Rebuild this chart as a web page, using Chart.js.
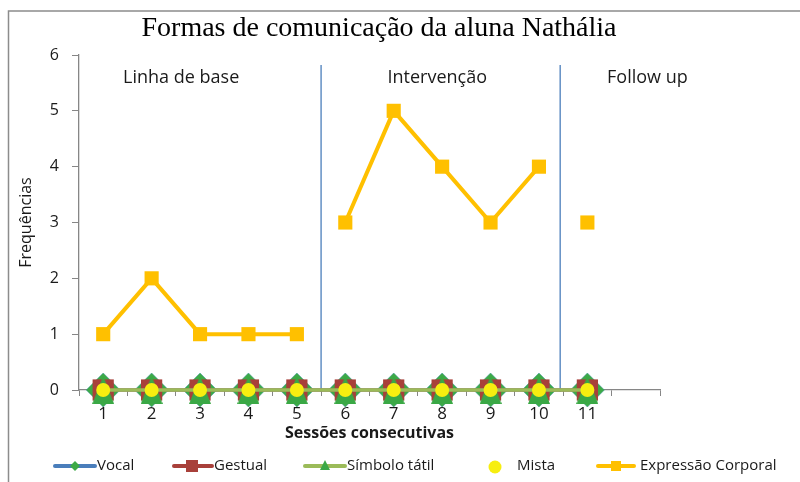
<!DOCTYPE html>
<html>
<head>
<meta charset="utf-8">
<script src="https://cdn.jsdelivr.net/npm/chart.js@4/dist/chart.umd.min.js"></script>
<style>
    html, body { margin: 0; padding: 0; background: #fff; }
    canvas { display: block; }
</style>
</head>
<body>
<canvas id="chart" width="800" height="482"></canvas>
<script>
const sessions = ["1", "2", "3", "4", "5", "6", "7", "8", "9", "10", "11", ""];
const vocal = [0, 0, 0, 0, 0, 0, 0, 0, 0, 0, 0];
const gestual = [0, 0, 0, 0, 0, 0, 0, 0, 0, 0, 0];
const simboloTatil = [0, 0, 0, 0, 0, 0, 0, 0, 0, 0, 0];
const mista = [0, 0, 0, 0, 0, 0, 0, 0, 0, 0, 0];
const expressaoCorporal = [1, 2, 1, 1, 1, 3, 5, 4, 3, 4, 3];
const yTicks = [0, 1, 2, 3, 4, 5, 6];
const phaseNames = ["Linha de base", "Intervenção", "Follow up"];
const phaseEnds = [5, 10]; // last session of each phase before a break

const titleText = "Formas de comunicação da aluna Nathália";
const sansFont = "'Open Sans', 'Noto Sans', sans-serif";

function triangleImage(w, h, color) {
    const c = document.createElement("canvas");
    c.width = w;
    c.height = h;
    const g = c.getContext("2d");
    g.fillStyle = color;
    g.beginPath();
    g.moveTo(w / 2, 0);
    g.lineTo(w, h);
    g.lineTo(0, h);
    g.closePath();
    g.fill();
    return c;
}

const green = "#3daa46";
const red = "#a8403a";
const yellow = "#f7ee10";
const orange = "#ffc000";
const blue = "#4a7ebb";
const olive = "#9bbb59";
const textColor = "#1a1a1a";
const triangle = triangleImage(22, 28, "#3aa845");

// the line breaks where a new phase starts
const isPhaseBreak = (i) => phaseEnds.includes(i + 1);

const decorPlugin = {
    id: "decor",
    beforeDraw(chart) {
        const { ctx, width, height } = chart;
        ctx.save();
        ctx.fillStyle = "#fff";
        ctx.fillRect(0, 0, width, height);
        ctx.strokeStyle = "#8c8c8c";
        ctx.lineWidth = 1.5;
        ctx.beginPath();
        ctx.moveTo(8.5, height);
        ctx.lineTo(8.5, 11);
        ctx.lineTo(width, 11);
        ctx.stroke();

        ctx.fillStyle = "#000";
        ctx.font = "28px 'Liberation Serif', 'DejaVu Serif', serif";
        ctx.textAlign = "center";
        ctx.textBaseline = "middle";
        ctx.fillText(titleText, 379, 29);
        ctx.restore();
    },
    beforeDatasetsDraw(chart) {
        const { ctx, chartArea, scales } = chart;
        const x = scales.x;
        const step = x.getPixelForValue(1) - x.getPixelForValue(0);
        const lineShift = [0, -3];
        ctx.save();
        ctx.strokeStyle = blue;
        ctx.lineWidth = 1.3;
        phaseEnds.forEach((end, i) => {
            const px = x.getPixelForValue(end - 1) + step / 2 + lineShift[i];
            ctx.beginPath();
            ctx.moveTo(px, chartArea.top + 10);
            ctx.lineTo(px, chartArea.bottom + 2);
            ctx.stroke();
        });
        // phase labels
        const labelAt = [1.61, 6.9, 11.24];
        ctx.fillStyle = textColor;
        ctx.font = `18px ${sansFont}`;
        ctx.textAlign = "center";
        ctx.textBaseline = "middle";
        phaseNames.forEach((name, i) => {
            ctx.fillText(name, x.getPixelForValue(0) + labelAt[i] * step, chartArea.top + 23);
        });
        ctx.restore();
    },
    afterDraw(chart) {
        const { ctx } = chart;
        const y = 466;
        ctx.save();
        ctx.font = `15px ${sansFont}`;
        ctx.textBaseline = "middle";
        ctx.textAlign = "left";

        const drawLine = (x0, x1, color) => {
            ctx.strokeStyle = color;
            ctx.lineWidth = 4;
            ctx.lineCap = "round";
            ctx.beginPath();
            ctx.moveTo(x0, y);
            ctx.lineTo(x1, y);
            ctx.stroke();
        };

        // Vocal
        drawLine(55, 95, blue);
        ctx.fillStyle = green;
        ctx.beginPath();
        ctx.moveTo(75, y - 5);
        ctx.lineTo(80, y);
        ctx.lineTo(75, y + 5);
        ctx.lineTo(70, y);
        ctx.closePath();
        ctx.fill();
        ctx.fillStyle = textColor;
        ctx.fillText("Vocal", 97, y);

        // Gestual
        drawLine(174, 212, red);
        ctx.fillStyle = red;
        ctx.fillRect(186, y - 6, 12, 12);
        ctx.fillStyle = textColor;
        ctx.fillText("Gestual", 214, y);

        // Símbolo tátil
        drawLine(305, 345, olive);
        ctx.fillStyle = "#3aa845";
        ctx.beginPath();
        ctx.moveTo(325, y - 6);
        ctx.lineTo(330, y + 4);
        ctx.lineTo(320, y + 4);
        ctx.closePath();
        ctx.fill();
        ctx.fillStyle = textColor;
        ctx.fillText("Símbolo tátil", 347, y);

        // Mista
        ctx.fillStyle = yellow;
        ctx.beginPath();
        ctx.arc(495, y + 1, 6.5, 0, Math.PI * 2);
        ctx.fill();
        ctx.fillStyle = textColor;
        ctx.fillText("Mista", 517, y);

        // Expressão Corporal
        drawLine(598, 634, orange);
        ctx.fillStyle = orange;
        ctx.fillRect(611, y - 5, 10, 10);
        ctx.fillStyle = textColor;
        ctx.fillText("Expressão Corporal", 640, y);
        ctx.restore();
    },
};

new Chart(document.getElementById("chart"), {
    type: "line",
    data: {
        labels: sessions,
        datasets: [
            {
                label: "Vocal",
                data: vocal,
                order: 5,
                borderColor: blue,
                borderWidth: 3,
                pointStyle: "rectRot",
                pointRadius: 17,
                pointBackgroundColor: green,
                pointBorderColor: "#3b8fa0",
                pointBorderWidth: 0.5,
                clip: false,
            },
            {
                label: "Gestual",
                data: gestual,
                order: 4,
                borderColor: red,
                borderWidth: 3,
                pointStyle: "rect",
                pointRadius: 15,
                pointBackgroundColor: red,
                pointBorderWidth: 0,
                clip: false,
            },
            {
                label: "Símbolo tátil",
                data: simboloTatil,
                order: 3,
                borderColor: olive,
                borderWidth: 3.5,
                pointStyle: triangle,
                clip: false,
            },
            {
                label: "Mista",
                data: mista,
                order: 2,
                showLine: false,
                pointStyle: "circle",
                pointRadius: 7,
                pointBackgroundColor: yellow,
                pointBorderWidth: 0,
                clip: false,
            },
            {
                label: "Expressão Corporal",
                data: expressaoCorporal,
                order: 1,
                borderColor: orange,
                borderWidth: 4,
                pointStyle: "rect",
                pointRadius: 10,
                pointBackgroundColor: orange,
                pointBorderWidth: 0,
                segment: {
                    borderColor: (ctx) => (isPhaseBreak(ctx.p0DataIndex) ? "rgba(0,0,0,0)" : orange),
                },
                clip: false,
            },
        ],
    },
    options: {
        responsive: false,
        devicePixelRatio: 1,
        animation: false,
        layout: { padding: { left: 8, top: 55, right: 140, bottom: 37 } },
        plugins: {
            legend: { display: false },
            title: { display: false },
            tooltip: { enabled: false },
        },
        elements: { line: { tension: 0 } },
        scales: {
            x: {
                offset: true,
                grid: {
                    offset: true,
                    drawOnChartArea: false,
                    tickLength: 6,
                    color: "#868686",
                },
                border: { color: "#868686", width: 1.3 },
                ticks: {
                    padding: 8,
                    color: textColor,
                    font: { family: sansFont, size: 17 },
                    maxRotation: 0,
                    autoSkip: false,
                },
                title: {
                    display: true,
                    text: "Sessões consecutivas",
                    color: textColor,
                    font: { family: sansFont, size: 16, weight: "bold" },
                    padding: { top: 0, bottom: 2 },
                },
                afterFit(scale) {
                    scale.height = 55;
                },
            },
            y: {
                min: yTicks[0],
                max: yTicks[yTicks.length - 1],
                afterBuildTicks(scale) {
                    scale.ticks = yTicks.map((v) => ({ value: v }));
                },
                grid: {
                    drawOnChartArea: false,
                    tickLength: 7,
                    color: "#868686",
                },
                border: { color: "#868686", width: 1.3 },
                ticks: {
                    padding: 13,
                    color: textColor,
                    font: { family: sansFont, size: 16 },
                },
                title: {
                    display: true,
                    text: "Frequências",
                    color: textColor,
                    font: { family: sansFont, size: 16 },
                    padding: { top: 9, bottom: 0 },
                },
                afterFit(scale) {
                    scale.width = 71;
                },
            },
        },
    },
    plugins: [decorPlugin],
});
</script>
</body>
</html>
